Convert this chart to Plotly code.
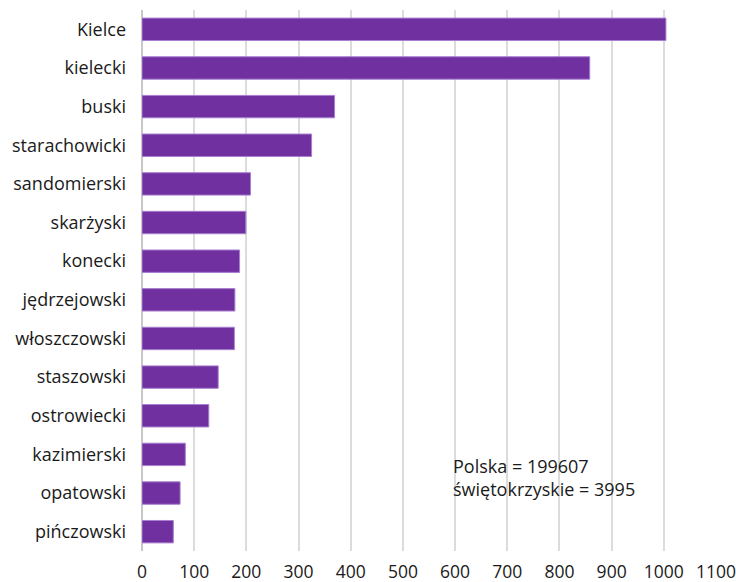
import plotly.graph_objects as go

categories = ["Kielce", "kielecki", "buski", "starachowicki", "sandomierski",
              "skarżyski", "konecki", "jędrzejowski", "włoszczowski", "staszowski",
              "ostrowiecki", "kazimierski", "opatowski", "pińczowski"]
values = [1004, 858, 369, 325, 208, 199, 187, 178, 177, 146, 128, 83, 73, 60]
x_ticks = [0, 100, 200, 300, 400, 500, 600, 700, 800, 900, 1000, 1100]
note_lines = ["Polska = 199607", "świętokrzyskie = 3995"]

FONT = "Open Sans"
TEXT = "#1a1a1a"
FS = 18

fig = go.Figure(go.Bar(
    x=values, y=categories, orientation="h",
    marker=dict(color="#7030a0", line=dict(color="#a77fcf", width=1)),
    hoverinfo="skip",
))

fig.update_layout(
    width=736, height=582,
    margin=dict(l=142, r=20, t=10, b=31, autoexpand=False),
    plot_bgcolor="white", paper_bgcolor="white",
    bargap=0.42, showlegend=False,
    font=dict(family=FONT, size=FS, color=TEXT),
    xaxis=dict(range=[0, 1100], tickvals=x_ticks, showgrid=True,
               gridcolor="#dcdcdc", gridwidth=1.5, zeroline=True,
               zerolinecolor="#c8c8c8", zerolinewidth=1.5,
               ticks="", ticklabelstandoff=8, showline=False,
               ticklabeloverflow="allow",
               tickfont=dict(size=17.5, color=TEXT)),
    yaxis=dict(categoryorder="array", categoryarray=categories,
               autorange="reversed", showgrid=False, ticks="",
               ticklabelstandoff=15, showline=False,
               tickfont=dict(size=FS, color=TEXT)),
    annotations=[dict(
        x=593, xref="x", y=0.135, yref="paper", xanchor="left", yanchor="middle",
        text="<br>".join(note_lines), showarrow=False, align="left",
        font=dict(family=FONT, size=FS, color=TEXT),
    )],
)

fig.write_html(
    "out.html",
    config={"displayModeBar": False},
    post_script="document.body.style.margin='0';document.body.style.overflow='hidden';",
)
